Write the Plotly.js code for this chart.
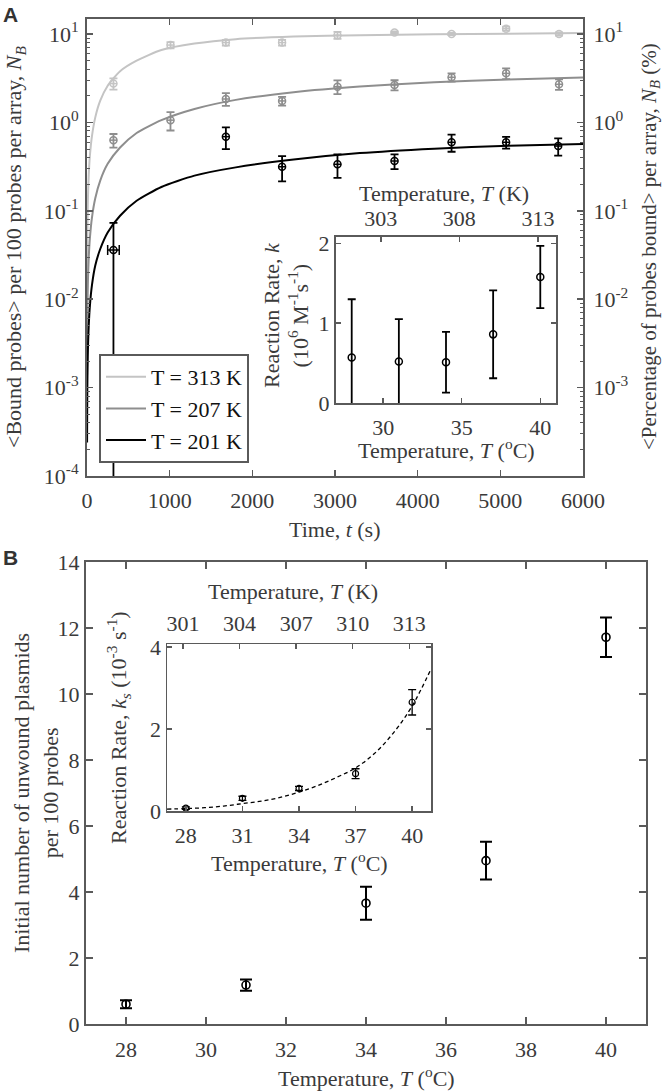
<!DOCTYPE html>
<html><head><meta charset="utf-8">
<script src="https://cdn.plot.ly/plotly-3.0.1.min.js"></script>
<style>html,body{margin:0;padding:0;background:#fff}#chart{width:664px;height:1092px}</style>
</head><body><div id="chart"></div>
<script>
// ---------- Panel A: main (bound probes vs time) ----------
const tPts = [320, 1010, 1680, 2360, 3030, 3720, 4410, 5070, 5710];
const nb313 = [2.75, 7.5, 8.0, 8.0, 9.7, 10.4, 10.0, 11.5, 10.0];
const nb313Err = [0.4, 0.6, 0.6, 0.6, 0.9, 0.3, 0.3, 0.6, 0.4];
const nb207 = [0.63, 1.06, 1.84, 1.75, 2.54, 2.65, 3.24, 3.59, 2.7];
const nb207Err = [0.11, 0.25, 0.3, 0.2, 0.45, 0.35, 0.35, 0.5, 0.37];
const tPts201 = [320, 1680, 2360, 3030, 3720, 4410, 5070, 5700];
const nb201 = [0.036, 0.69, 0.315, 0.336, 0.366, 0.596, 0.596, 0.54];
const nb201Err = [0.037, 0.19, 0.10, 0.10, 0.07, 0.13, 0.09, 0.12];
const tErr201First = 70;
const tErrSmall = 45;

const tFit = [1, 2, 4, 7, 12, 20, 35, 60, 100, 160, 250, 400, 600, 900, 1300, 1800, 2500, 3300, 4200, 5100, 6000];
const fit313 = [0.012, 0.025, 0.049, 0.086, 0.146, 0.24, 0.42, 0.70, 1.14, 1.76, 2.6, 3.8, 5.0, 6.6, 7.8, 8.75, 9.35, 9.7, 9.95, 10.1, 10.25];
const fit207 = [0.0014, 0.0028, 0.0057, 0.0099, 0.017, 0.028, 0.049, 0.084, 0.139, 0.22, 0.34, 0.52, 0.76, 1.06, 1.42, 1.80, 2.2, 2.55, 2.85, 3.05, 3.22];
const fit201 = [0.00024, 0.00048, 0.00097, 0.0017, 0.0029, 0.0048, 0.0084, 0.0144, 0.024, 0.037, 0.057, 0.088, 0.13, 0.186, 0.25, 0.31, 0.38, 0.45, 0.505, 0.545, 0.57];
const legendNames = ['T = 313 K', 'T = 207 K', 'T = 201 K'];

const timeTicks = [0, 1000, 2000, 3000, 4000, 5000, 6000];
const logTicks = [1e-4, 1e-3, 1e-2, 1e-1, 1, 10];
const logTickText = ['10<sup>-4</sup>', '10<sup>-3</sup>', '10<sup>-2</sup>', '10<sup>-1</sup>', '10<sup>0</sup>', '10<sup>1</sup>'];
const logTicksRight = [1e-3, 1e-2, 1e-1, 1, 10];
const logTickTextRight = ['10<sup>-3</sup>', '10<sup>-2</sup>', '10<sup>-1</sup>', '10<sup>0</sup>', '10<sup>1</sup>'];

// ---------- Panel A inset: reaction rate k ----------
const tempC = [28, 31, 34, 37, 40];
const kRate = [0.57, 0.52, 0.51, 0.86, 1.58];
const kErr = [0.73, 0.53, 0.38, 0.55, 0.39];
const insetATicksC = [30, 35, 40];
const insetATicksK = [303, 308, 313];
const insetAYTicks = [0, 1, 2];

// ---------- Panel B: unwound plasmids ----------
const nUnwound = [0.60, 1.18, 3.66, 4.95, 11.72];
const nUnwoundErr = [0.12, 0.17, 0.5, 0.57, 0.6];
const bXTicks = [28, 30, 32, 34, 36, 38, 40];
const bYTicks = [0, 2, 4, 6, 8, 10, 12, 14];

// ---------- Panel B inset: ks ----------
const ksRate = [0.07, 0.31, 0.55, 0.91, 2.65];
const ksErr = [0.03, 0.05, 0.05, 0.12, 0.31];
const ksFitT = [27, 28, 29, 30, 31, 32, 33, 34, 35, 36, 37, 38, 39, 40, 41];
const ksFit = [0.045, 0.06, 0.08, 0.12, 0.18, 0.24, 0.33, 0.46, 0.62, 0.82, 1.05, 1.4, 1.9, 2.56, 3.46];
const insetBTicksC = [28, 31, 34, 37, 40];
const insetBTicksK = [301, 304, 307, 310, 313];
const insetBYTicks = [0, 2, 4];

// ---------- styling ----------
const W = 664, H = 1092;
const px = x => x / W;
const py = y => 1 - y / H;
const SERIF = 'Liberation Serif, Times New Roman, serif';
const AX = '#5a5a5a';
const TXT = '#3a3a3a';
const FS = 22;
const C313 = '#c4c4c4', C207 = '#8e8e8e', C201 = '#000000';

const minorLog = [];
[1e-4, 1e-3, 1e-2, 1e-1, 1, 10].forEach(d => { for (let m = 2; m <= 9; m++) minorLog.push(d * m); });

function baseAxis(extra) {
  return Object.assign({
    showline: true, linecolor: AX, linewidth: 2, showgrid: false, zeroline: false,
    ticks: 'inside', ticklen: 6, tickwidth: 1.5, tickcolor: AX,
    tickfont: {family: SERIF, size: FS, color: TXT}, fixedrange: true
  }, extra);
}

const traces = [];
[[fit313, C313], [fit207, C207], [fit201, C201]].forEach((f, i) => {
  traces.push({x: tFit, y: f[0], xaxis: 'x', yaxis: 'y', mode: 'lines', name: legendNames[i],
    line: {color: f[1], width: 2, shape: 'spline', smoothing: 0.6}, hoverinfo: 'skip'});
});
function ptsTrace(x, y, ey, ex, exw, color) {
  return {x: x, y: y, xaxis: 'x', yaxis: 'y', mode: 'markers', showlegend: false, hoverinfo: 'skip',
    marker: {symbol: 'circle-open', size: 7, color: color, line: {width: 1.5, color: color}},
    error_y: {type: 'data', array: ey, visible: true, color: color, thickness: 1.8, width: 4},
    error_x: {type: 'data', array: ex, visible: true, color: color, thickness: 1.5, width: exw}};
}
traces.push(ptsTrace(tPts, nb313, nb313Err, tPts.map(() => tErrSmall), 0, C313));
traces.push(ptsTrace(tPts, nb207, nb207Err, tPts.map(() => tErrSmall), 0, C207));
traces.push(ptsTrace(tPts201.slice(0, 1), nb201.slice(0, 1), nb201Err.slice(0, 1), [tErr201First], 5, C201));
traces.push(ptsTrace(tPts201.slice(1), nb201.slice(1), nb201Err.slice(1), tPts201.slice(1).map(() => tErrSmall), 0, C201));
traces.push({x: [3000], y: [1], xaxis: 'x', yaxis: 'y2', mode: 'markers', marker: {opacity: 0}, showlegend: false, hoverinfo: 'skip'});

traces.push({x: tempC, y: kRate, xaxis: 'x3', yaxis: 'y3', mode: 'markers', showlegend: false, hoverinfo: 'skip',
  marker: {symbol: 'circle-open', size: 7, color: '#000', line: {width: 1.5, color: '#000'}},
  error_y: {type: 'data', array: kErr, visible: true, color: '#000', thickness: 1.8, width: 4}});
traces.push({x: [307], y: [1], xaxis: 'x4', yaxis: 'y3', mode: 'markers', marker: {opacity: 0}, showlegend: false, hoverinfo: 'skip'});

traces.push({x: tempC, y: nUnwound, xaxis: 'x5', yaxis: 'y5', mode: 'markers', showlegend: false, hoverinfo: 'skip',
  marker: {symbol: 'circle-open', size: 8, color: '#000', line: {width: 1.6, color: '#000'}},
  error_y: {type: 'data', array: nUnwoundErr, visible: true, color: '#000', thickness: 2, width: 6}});
traces.push({x: ksFitT, y: ksFit, xaxis: 'x6', yaxis: 'y6', mode: 'lines', showlegend: false, hoverinfo: 'skip',
  line: {color: '#000', width: 1.3, dash: '4px,3px', shape: 'spline'}});
traces.push({x: tempC, y: ksRate, xaxis: 'x6', yaxis: 'y6', mode: 'markers', showlegend: false, hoverinfo: 'skip',
  marker: {symbol: 'circle-open', size: 6, color: '#000', line: {width: 1.2, color: '#000'}},
  error_y: {type: 'data', array: ksErr, visible: true, color: '#000', thickness: 1.3, width: 4}});
traces.push({x: [307], y: [1], xaxis: 'x7', yaxis: 'y6', mode: 'markers', marker: {opacity: 0}, showlegend: false, hoverinfo: 'skip'});

const ann = (text, x, y, opts) => Object.assign({text: text, x: px(x), y: py(y), xref: 'paper', yref: 'paper',
  showarrow: false, xanchor: 'center', yanchor: 'middle', font: {family: SERIF, size: FS, color: TXT}}, opts || {});

const layout = {
  width: W, height: H, margin: {l: 0, r: 0, t: 0, b: 0},
  paper_bgcolor: '#fff', plot_bgcolor: 'rgba(0,0,0,0)',
  showlegend: true,
  legend: {x: px(99), y: py(463), xanchor: 'left', yanchor: 'bottom', bgcolor: '#fff',
    bordercolor: AX, borderwidth: 2, font: {family: SERIF, size: FS, color: '#111'},
    tracegroupgap: 0, itemwidth: 40},
  xaxis: baseAxis({domain: [px(87), px(583)], anchor: 'y', range: [0, 6000], tickvals: timeTicks, mirror: 'ticks', ticklabelstandoff: 4}),
  yaxis: baseAxis({domain: [py(476), py(19)], anchor: 'x', type: 'log', range: [-4, 1.17],
    tickvals: logTicks, ticktext: logTickText, mirror: true, ticklabelstandoff: 2,
    minor: {tickvals: minorLog, ticks: 'inside', ticklen: 3, tickwidth: 1, tickcolor: AX}}),
  yaxis2: baseAxis({overlaying: 'y', side: 'right', anchor: 'x', type: 'log', range: [-4, 1.17],
    tickvals: logTicksRight, ticktext: logTickTextRight, ticklabelstandoff: 4,
    minor: {tickvals: minorLog, ticks: 'inside', ticklen: 3, tickwidth: 1, tickcolor: AX}}),
  xaxis3: baseAxis({domain: [px(336), px(556)], anchor: 'y3', range: [27, 41], tickvals: insetATicksC, mirror: true, ticklen: 5, ticklabelstandoff: 4}),
  yaxis3: baseAxis({domain: [py(403), py(237)], anchor: 'x3', range: [0, 2.08], tickvals: insetAYTicks, mirror: 'ticks', ticklen: 5}),
  xaxis4: baseAxis({overlaying: 'x3', side: 'top', anchor: 'y3', range: [300.15, 314.15], tickvals: insetATicksK, ticklen: 5, ticklabelstandoff: 0}),
  xaxis5: baseAxis({domain: [px(86), px(646)], anchor: 'y5', range: [27, 41], tickvals: bXTicks, mirror: 'ticks', ticklen: 7, ticklabelstandoff: 5}),
  yaxis5: baseAxis({domain: [py(1024), py(562)], anchor: 'x5', range: [0, 14], tickvals: bYTicks, mirror: 'ticks', ticklen: 7}),
  xaxis6: baseAxis({domain: [px(167), px(431)], anchor: 'y6', range: [27, 41], tickvals: insetBTicksC, mirror: true, ticklen: 5, linewidth: 1.5, ticklabelstandoff: 4}),
  yaxis6: baseAxis({domain: [py(811), py(644)], anchor: 'x6', range: [0, 4.07], tickvals: insetBYTicks, mirror: 'ticks', ticklen: 5, linewidth: 1.5}),
  xaxis7: baseAxis({overlaying: 'x6', side: 'top', anchor: 'y6', range: [300.15, 314.15], tickvals: insetBTicksK, ticklen: 5, linewidth: 1.5, ticklabelstandoff: 3}),
  annotations: [
    ann('<b>A</b>', 10, 15, {font: {family: 'Liberation Sans, Arial, sans-serif', size: 21, color: '#333'}}),
    ann('<b>B</b>', 10, 557, {font: {family: 'Liberation Sans, Arial, sans-serif', size: 21, color: '#333'}}),
    ann('Time, <i>t</i> (s)', 335, 529),
    ann('&lt;Bound probes&gt; per 100 probes per array, <i>N<sub>B</sub></i>', 15, 247, {textangle: -90}),
    ann('&lt;Percentage of probes bound&gt; per array, <i>N<sub>B</sub></i> (%)', 650, 247, {textangle: -90, font: {family: SERIF, size: 21, color: TXT}}),
    ann('Temperature, <i>T</i> (K)', 444, 193),
    ann('Temperature, <i>T</i> (<sup>o</sup>C)', 446, 449),
    ann('Reaction Rate, <i>k</i><br>(10<sup>6</sup> M<sup>-1</sup>s<sup>-1</sup>)', 286, 315, {textangle: -90}),
    ann('Temperature, <i>T</i> (<sup>o</sup>C)', 366, 1077),
    ann('Initial number of unwound plasmids<br>per 100 probes', 36, 793, {textangle: -90}),
    ann('Temperature, <i>T</i> (K)', 293, 591),
    ann('Temperature, <i>T</i> (<sup>o</sup>C)', 299, 862),
    ann('Reaction Rate, <i>k<sub>s</sub></i> (10<sup>-3</sup> s<sup>-1</sup>)', 118, 728, {textangle: -90})
  ]
};

Plotly.newPlot('chart', traces, layout, {staticPlot: true, displayModeBar: false});
</script></body></html>
